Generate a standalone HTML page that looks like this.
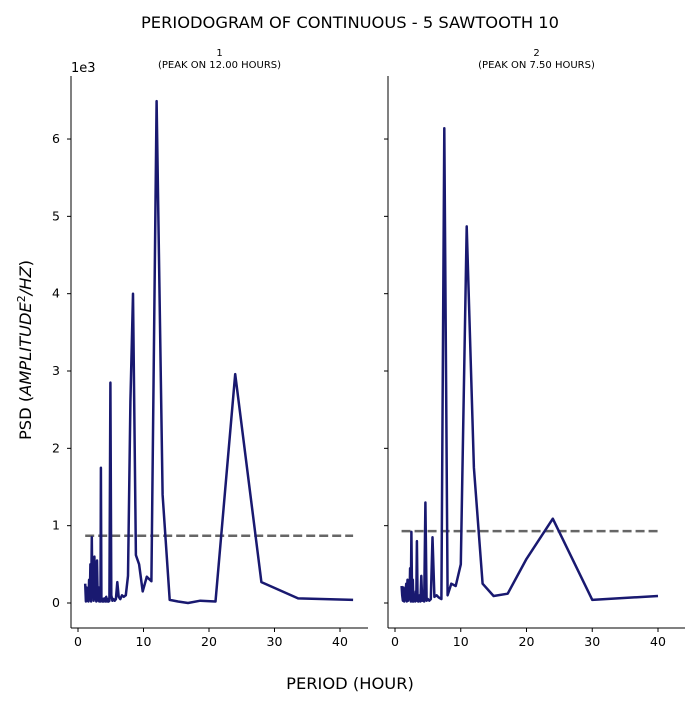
<!DOCTYPE html>
<html><head><meta charset="utf-8"><style>
body{margin:0;background:#fff;font-family:"DejaVu Sans","Liberation Sans",sans-serif}
</style></head><body>
<svg id="c" width="700" height="700" xmlns="http://www.w3.org/2000/svg" font-family="DejaVu Sans, Liberation Sans, sans-serif">
<text x="350" y="28" text-anchor="middle" font-size="16.3">PERIODOGRAM OF CONTINUOUS - 5 SAWTOOTH 10</text>
<text x="350" y="689" text-anchor="middle" font-size="16.3">PERIOD (HOUR)</text>
<text transform="translate(31,350) rotate(-90)" text-anchor="middle" font-size="16.3">PSD (<tspan font-style="italic">AMPLITUDE</tspan><tspan font-size="11" dy="-6">2</tspan><tspan dy="6" font-style="italic">/HZ</tspan>)</text>
<text x="71" y="72" font-size="13">1e3</text>
<g id="g"></g>
</svg>
<script>
const leftPeriods=[42,33.6,28,24,21,18.67,16.8,15.27,14,12.92,12,11.2,10.5,9.88,9.33,8.84,8.4,8,7.64,7.3,7,6.72,6.46,6.22,6,5.79,5.6,5.42,5.25,5.09,4.94,4.8,4.67,4.54,4.42,4.31,4.2,4.1,4,3.91,3.82,3.73,3.65,3.57,3.5,3.43,3.36,3.29,3.23,3.17,3.11,3.05,3,2.9,2.8,2.7,2.6,2.5,2.4,2.3,2.2,2.1,2,1.9,1.8,1.7,1.6,1.5,1.4,1.3,1.2,1.1];
const leftValues=[0.04,0.06,0.27,2.96,0.02,0.03,0.0,0.02,0.04,1.4,6.49,0.28,0.34,0.15,0.5,0.62,4.0,2.6,0.35,0.1,0.08,0.1,0.05,0.08,0.27,0.05,0.03,0.05,0.03,0.1,2.85,0.03,0.02,0.05,0.02,0.08,0.02,0.03,0.06,0.02,0.05,0.02,0.03,0.08,1.75,0.02,0.05,0.1,0.02,0.2,0.03,0.15,0.05,0.55,0.02,0.4,0.05,0.6,0.03,0.35,0.1,0.85,0.02,0.5,0.05,0.3,0.02,0.15,0.03,0.2,0.02,0.25];
const rightPeriods=[40,30,24,20,17.14,15,13.33,12,10.9,10,9.23,8.57,8,7.5,7.06,6.67,6.32,6,5.71,5.45,5.22,5,4.8,4.62,4.44,4.29,4.14,4,3.87,3.75,3.64,3.53,3.43,3.33,3.24,3.16,3.08,3,2.9,2.8,2.7,2.6,2.5,2.4,2.3,2.2,2.1,2,1.9,1.8,1.7,1.6,1.5,1.4,1.3,1.2,1.1,1];
const rightValues=[0.09,0.04,1.09,0.57,0.12,0.09,0.25,1.75,4.87,0.5,0.22,0.25,0.1,6.14,0.05,0.07,0.1,0.08,0.85,0.05,0.03,0.05,0.03,1.3,0.02,0.05,0.03,0.35,0.02,0.1,0.05,0.02,0.03,0.8,0.03,0.15,0.02,0.05,0.1,0.02,0.3,0.02,0.92,0.02,0.45,0.05,0.2,0.03,0.3,0.02,0.25,0.05,0.15,0.02,0.2,0.03,0.1,0.22];
const thresholds=[0.87,0.93];
const titles=["1","2"];
const peaks=["(PEAK ON 12.00 HOURS)","(PEAK ON 7.50 HOURS)"];
const xTicks=[0,10,20,30,40];
const yTicks=[0,1,2,3,4,5,6];
const NS="http://www.w3.org/2000/svg";
const g=document.getElementById('g');
function mk(t,a,p){const e=document.createElementNS(NS,t);for(const k in a)e.setAttribute(k,a[k]);(p||g).appendChild(e);return e;}
const panels=[{x0:71,x1:368,px0:78,ppu:6.55,P:leftPeriods,V:leftValues,start:1.1,end:42},{x0:388,x1:685,px0:395,ppu:6.575,P:rightPeriods,V:rightValues,start:1,end:40}];
const yT=628,yB0=603,ppy=77.33;
const yS=v=>yB0-v*ppy;
panels.forEach((p,i)=>{
  const xS=v=>p.px0+v*p.ppu;
  const ax=mk('g',{});
  
  
  const l=mk('line',{x1:p.x0,y1:76,x2:p.x0,y2:yT,stroke:'#000','stroke-width':1},ax);
  
  const b=mk('line',{x1:p.x0,y1:yT,x2:p.x1,y2:yT,stroke:'#000','stroke-width':1},ax);
  
  xTicks.forEach(t=>{mk('line',{x1:xS(t),y1:yT,x2:xS(t),y2:yT+4,stroke:'#000'},ax);
    const tx=mk('text',{x:xS(t),y:yT+18,'text-anchor':'middle','font-size':12.5},ax);tx.textContent=t;
    });
  yTicks.forEach(t=>{mk('line',{x1:p.x0-4,y1:yS(t),x2:p.x0,y2:yS(t),stroke:'#000'},ax);
    if(i===0){const tx=mk('text',{x:p.x0-11,y:yS(t)+4,'text-anchor':'end','font-size':12.5},ax);tx.textContent=t;
    }});
  const cx=(p.x0+p.x1)/2;
  const t1=mk('text',{x:cx,y:56,'text-anchor':'middle','font-size':10},ax);t1.textContent=titles[i];
  
  const t2=mk('text',{x:cx,y:68,'text-anchor':'middle','font-size':10},ax);t2.textContent=peaks[i];
  
  const th=mk('line',{x1:xS(p.start),x2:xS(p.end),y1:yS(thresholds[i]),y2:yS(thresholds[i]),stroke:'#666','stroke-width':2.5,'stroke-dasharray':'9,4'},ax);
  
  const d=p.P.map((v,k)=>(k?'L':'M')+xS(v).toFixed(1)+','+yS(p.V[k]).toFixed(1)).join('');
  const pl=mk('path',{d:d,fill:'none',stroke:'#191970','stroke-width':2.5,'stroke-linejoin':'round'},ax);
  
});
</script>
</body></html>
